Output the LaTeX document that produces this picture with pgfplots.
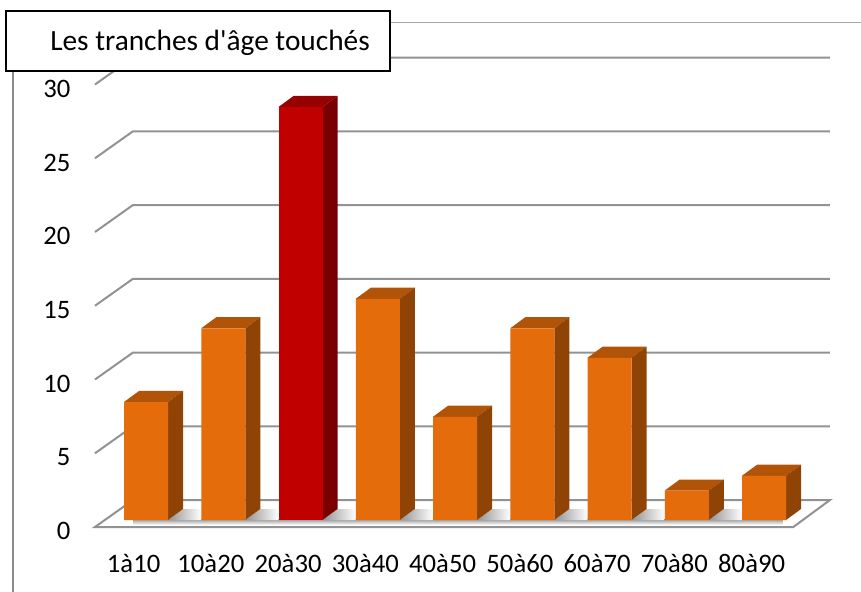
\documentclass[border=0pt]{standalone}
\usepackage{fontspec}
\setmainfont{Carlito}
\newfontfamily\titlefont{Carlito}
\usepackage{pgfplots}
\usepackage{pgfplotstable}
\pgfplotsset{compat=1.18}

% front faces of the bars, red one apart
\pgfplotstableread{
x v
0 8
1 13
3 15
4 7
5 13
6 11
7 2
8 3
}\orangebars
\pgfplotstableread{
x v
2 28
}\redbars

\definecolor{barfront}{HTML}{E46C0A}
\definecolor{bartop}{HTML}{B25408}
\definecolor{barside}{HTML}{8F4406}
\definecolor{redfront}{HTML}{C00000}
\definecolor{redtop}{HTML}{960000}
\definecolor{redside}{HTML}{7A0000}
\definecolor{gridgray}{HTML}{929292}

% all offsets are in data units: 1 category = 77.25 px, 1 value = 14.75 px
\def\xo{0.1605}  % bar centre sits behind the front edge of the floor
\def\yo{0.4746}
\def\hw{0.2848}  % half a bar
\def\dx{0.194}   % depth of a bar
\def\dy{0.746}

\newcommand{\sidetop}[4]{%
  \pgfmathsetmacro\xl{#1+\xo-\hw}%
  \pgfmathsetmacro\xr{#1+\xo+\hw}%
  \pgfmathsetmacro\xlb{\xl+\dx}%
  \pgfmathsetmacro\xrb{\xr+\dx}%
  \pgfmathsetmacro\yb{\yo}%
  \pgfmathsetmacro\ybb{\yo+\dy}%
  \pgfmathsetmacro\yt{#2+\yo}%
  \pgfmathsetmacro\ytb{#2+\yo+\dy}%
  \edef\temp{\noexpand\addplot[fill=#3,draw=none] coordinates {(\xl,\yt)(\xr,\yt)(\xrb,\ytb)(\xlb,\ytb)} --cycle;
    \noexpand\addplot[fill=#4,draw=none] coordinates {(\xr,\yb)(\xr,\yt)(\xrb,\ytb)(\xrb,\ybb)} --cycle;}%
  \temp
}
% shadow on the floor, right of a bar
\newcommand{\floorshadow}[1]{%
  \pgfmathsetmacro\xr{#1+\xo+\hw}%
  \pgfmathsetmacro\xrb{\xr+\dx}%
  \pgfmathsetmacro\xe{\xr+0.43}%
  \pgfmathsetmacro\yb{\yo}%
  \pgfmathsetmacro\ybb{\yo+\dy}%
  \edef\temp{\noexpand\addplot[left color=gray!85,right color=white,draw=none] coordinates {(\xr,\yb)(\xrb,\ybb)(\xe,\ybb)(\xe,\yb)} --cycle;}%
  \temp
}
\newcommand{\backline}[1]{%
  \pgfmathsetmacro\ya{#1+1.8305}%
  \edef\temp{\noexpand\addplot[gridgray,line width=1.5pt] coordinates {(-0.5,#1)(-0.008,\ya)(9.014,\ya)};}%
  \temp
}

\begin{document}
\begin{tikzpicture}
\useasboundingbox (0,0) rectangle (645.75pt,-444pt);
\begin{axis}[
    at={(71.25pt,-395.25pt)},
    anchor=south west,
    x=57.9375pt, y=11.0625pt,
    xmin=-0.5, xmax=8.5,
    ymin=0, ymax=30,
    clip=false,
    axis line style={draw=none},
    tick style={draw=none},
    major tick length=0pt,
    ytick={0,5,...,30},
    xtick={0,...,8},
    xticklabels={1à10,10à20,20à30,30à40,40à50,50à60,60à70,70à80,80à90},
    /pgf/number format/assume math mode=true,
    tick label style={font=\fontsize{20}{22}\selectfont},
    yticklabel style={xshift=-15pt,yshift=-3.2pt},
    xticklabel style={yshift=-17pt},
]
% floor
\addplot[fill=white,draw=gridgray,line width=1.5pt] coordinates {(-0.5,0)(8.54,0)(9.014,1.8305)(-0.008,1.8305)} --cycle;
\addplot[bottom color=white,top color=gray!70,draw=none] coordinates {(0.0,0.15)(8.4,0.15)(8.4,0.48)(0.0,0.48)} --cycle;
\floorshadow{0}
\floorshadow{1}
\floorshadow{2}
\floorshadow{3}
\floorshadow{4}
\floorshadow{5}
\floorshadow{6}
\floorshadow{7}
% walls
\backline{5}
\backline{10}
\backline{15}
\backline{20}
\backline{25}
\backline{30}
% bars
\sidetop{0}{8}{bartop}{barside}
\sidetop{1}{13}{bartop}{barside}
\sidetop{2}{28}{redtop}{redside}
\sidetop{3}{15}{bartop}{barside}
\sidetop{4}{7}{bartop}{barside}
\sidetop{5}{13}{bartop}{barside}
\sidetop{6}{11}{bartop}{barside}
\sidetop{7}{2}{bartop}{barside}
\sidetop{8}{3}{bartop}{barside}
\addplot[ybar,bar width=33pt,bar shift=0pt,fill=barfront,draw=none,xshift=9.3pt,yshift=5.25pt] table[x=x,y=v] {\orangebars};
\addplot[ybar,bar width=33pt,bar shift=0pt,fill=redfront,draw=none,xshift=9.3pt,yshift=5.25pt] table[x=x,y=v] {\redbars};
\end{axis}
% frame of the pasted picture and title box, in px of the reference
\begin{scope}[x=0.75pt,y=-0.75pt]
\draw[gray!70,line width=0.6pt] (385,22) -- (861,22);
\draw[gray!90,line width=1pt] (13,60) -- (13,592);
\draw[black,fill=white,line width=1.2pt] (6,11) rectangle (390,71);
\node[anchor=base west,inner sep=0pt,font=\titlefont\fontsize{22}{24}\selectfont] at (50,51) {Les tranches d'âge touchés};
\end{scope}
\end{tikzpicture}
\end{document}
